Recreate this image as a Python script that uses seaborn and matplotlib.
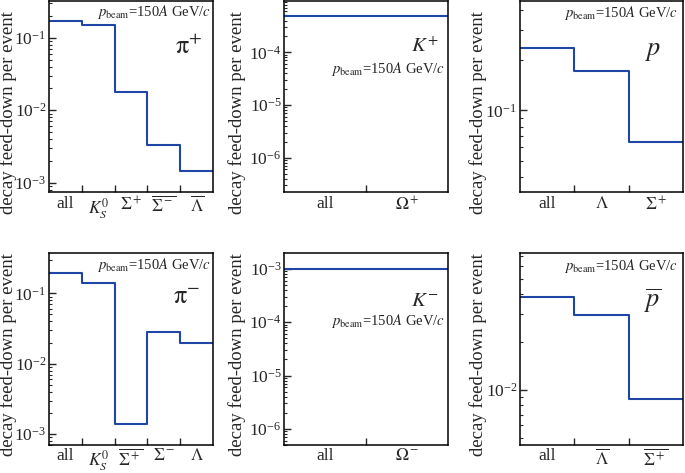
import numpy as np
import pandas as pd
import seaborn as sns
import matplotlib
matplotlib.use("Agg")
import matplotlib.pyplot as plt
from matplotlib.ticker import LogLocator, NullFormatter, FixedLocator

# decay feed-down per event, p_beam = 150A GeV/c
pip_labels = ["all", r"$K^{\mathit{0}}_S$", r"$\Sigma^+$", r"$\overline{\Sigma^-}$", r"$\overline{\Lambda}$"]
pip_values = [0.172, 0.148, 0.0177, 0.00333, 0.00147]

pim_labels = ["all", r"$K^{\mathit{0}}_S$", r"$\overline{\Sigma^+}$", r"$\Sigma^-$", r"$\Lambda$"]
pim_values = [0.196, 0.142, 0.00139, 0.0282, 0.0197]

kp_labels = ["all", r"$\Omega^+$"]
kp_values = [4.9e-4, 4.9e-4]

km_labels = ["all", r"$\Omega^-$"]
km_values = [1.0e-3, 1.0e-3]

p_labels = ["all", r"$\Lambda$", r"$\Sigma^+$"]
p_values = [0.237, 0.172, 0.0645]

pbar_labels = ["all", r"$\overline{\Lambda}$", r"$\overline{\Sigma^+}$"]
pbar_values = [0.0386, 0.0296, 0.00877]

sns.set_style("ticks")
plt.rcParams['font.family'] = ['Liberation Serif', 'DejaVu Serif']
plt.rcParams['mathtext.fontset'] = 'stix'

blue = "#1f46a6"
beam = r"$p_{\rm beam}$=150$A$ GeV/$c$"

fig = plt.figure(figsize=(6.85, 4.73), dpi=100)
W, H = 685.0, 473.0


def make_ax(x0, x1, ytop, ybot):
    return fig.add_axes([x0 / W, 1 - ybot / H, (x1 - x0) / W, (ybot - ytop) / H])


def draw(ax, labels, values, ylim, name, name_xy, name_size, beam_xy, label_xy):
    n = len(values)
    df = pd.DataFrame({"edge": np.arange(n + 1), "val": list(values) + [values[-1]]})
    sns.lineplot(data=df, x="edge", y="val", ax=ax, color=blue, lw=1.5,
                 drawstyle="steps-post")
    ax.set_yscale("log")
    ax.set_xlim(0, n)
    ax.set_ylim(*ylim)
    ax.xaxis.set_major_locator(FixedLocator(np.arange(1, n)))
    ax.xaxis.set_major_formatter(NullFormatter())
    ax.xaxis.set_minor_locator(FixedLocator(np.arange(n) + 0.5))
    ax.set_xticklabels(labels, minor=True)
    ax.yaxis.set_major_locator(LogLocator(base=10, numticks=20))
    ax.yaxis.set_minor_locator(LogLocator(base=10, subs=np.arange(2, 10), numticks=20))
    ax.yaxis.set_minor_formatter(NullFormatter())
    ax.tick_params(axis="x", which="major", direction="in", length=5, width=1, top=False)
    ax.tick_params(axis="x", which="minor", length=0, pad=2.5, labelsize=12.5)
    ax.tick_params(axis="y", which="major", direction="in", length=5, width=1,
                   labelsize=12.5, pad=2, right=False)
    ax.tick_params(axis="y", which="minor", direction="in", length=2.5, width=0.8, right=False)
    for s in ax.spines.values():
        s.set_color("black")
        s.set_linewidth(1.1)
    ax.set_xlabel("")
    ax.set_ylabel("decay feed-down per event", fontsize=13.5)
    ax.yaxis.set_label_coords(*label_xy)
    ax.text(*name_xy, name, transform=ax.transAxes, ha="center", va="center",
            fontsize=name_size)
    ax.text(*beam_xy, beam, transform=ax.transAxes, ha="right", va="center",
            fontsize=10.5)


top_row = (1, 192.3)
bot_row = (253.3, 445)
col_l = (49, 213)
col_m = (284.3, 447.7)
col_r = (520, 683.3)

ax = make_ax(*col_l, *top_row)
draw(ax, pip_labels, pip_values, (7.4e-4, 0.32), r"$\mathrm{\pi}^{+}$", (0.85, 0.76), 19,
     (0.985, 0.94), (-0.195, 0.417))

ax = make_ax(*col_l, *bot_row)
draw(ax, pim_labels, pim_values, (7.0e-4, 0.37), r"$\mathrm{\pi}^{-}$", (0.84, 0.765), 19,
     (0.985, 0.94), (-0.195, 0.47))

ax = make_ax(*col_m, *top_row)
draw(ax, kp_labels, kp_values, (2.2e-7, 9.4e-4), r"$K^{+}$", (0.86, 0.76), 15,
     (0.985, 0.645), (-0.233, 0.417))

ax = make_ax(*col_m, *bot_row)
draw(ax, km_labels, km_values, (5.0e-7, 1.94e-3), r"$K^{-}$", (0.86, 0.75), 15,
     (0.985, 0.647), (-0.233, 0.47))

ax = make_ax(*col_r, *top_row)
draw(ax, p_labels, p_values, (0.0324, 0.45), r"$p$", (0.815, 0.735), 19,
     (0.965, 0.935), (-0.202, 0.417))

ax = make_ax(*col_r, *bot_row)
draw(ax, pbar_labels, pbar_values, (0.0045, 0.0725), r"$\overline{p}$", (0.815, 0.755), 19,
     (0.965, 0.935), (-0.202, 0.47))

fig.savefig("out.png", dpi=100)
